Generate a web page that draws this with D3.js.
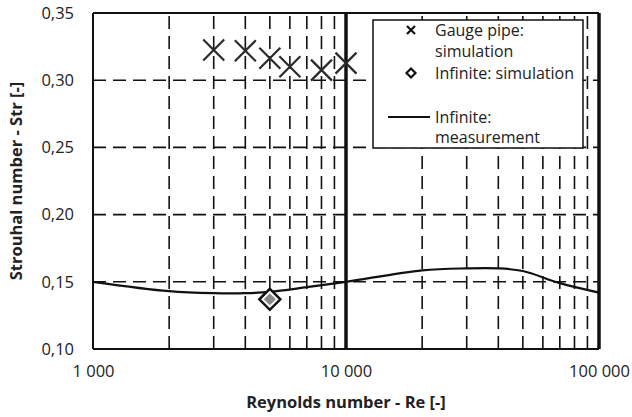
<!DOCTYPE html>
<html>
<head>
<meta charset="utf-8">
<script src="https://cdn.jsdelivr.net/npm/d3@7"></script>
<style>
  body { margin: 0; background: #fff; }
  text { font-family: "Open Sans", sans-serif; fill: #222; }
</style>
</head>
<body>
<div id="vis"></div>
<script>
// data
var gaugeRe  = [3000, 4000, 5000, 6000, 8000, 10000];
var gaugeStr = [0.3224, 0.3219, 0.3164, 0.3100, 0.3075, 0.3127];

var infSimRe  = [5000];
var infSimStr = [0.137];

var measRe  = [1000, 2000, 3000, 4000, 5000, 7000, 10000, 20000, 30000, 40000, 50000, 70000, 100000];
var measStr = [0.150, 0.1430, 0.1415, 0.1415, 0.1425, 0.1460, 0.1500, 0.1585, 0.1600, 0.1600, 0.1580, 0.1490, 0.1420];

var xTicks = [1000, 10000, 100000];
var yTicks = [0.10, 0.15, 0.20, 0.25, 0.30, 0.35];
var legendLabels = [["Gauge pipe:", "simulation"], ["Infinite: simulation"], ["Infinite:", "measurement"]];

var w = 632, h = 417;
var pLeft = 93, pRight = 599, pTop = 13, pBottom = 349;

var svg = d3.select("#vis").append("svg")
  .attr("width", w).attr("height", h);

var locale = d3.formatLocale({decimal: ",", thousands: " ", grouping: [3], currency: ["", ""]});
var fmtX = locale.format(",.0f");
var fmtY = locale.format(".2f");

var x = d3.scaleLog().domain([1000, 100000]).range([pLeft, pRight]);
var y = d3.scaleLinear().domain([0.10, 0.35]).range([pBottom, pTop]);

// minor vertical grid (dashed) and decades (solid, thick)
var minor = [];
[1000, 10000].forEach(function(d) { for (var k = 2; k <= 9; k++) minor.push(d * k); });

svg.append("g").selectAll("line").data(minor).enter().append("line")
  .attr("x1", d => x(d)).attr("x2", d => x(d))
  .attr("y1", pBottom).attr("y2", pTop)
  .attr("stroke", "#111").attr("stroke-width", 1.6)
  .attr("stroke-dasharray", "13,7");

svg.append("g").selectAll("line").data(yTicks.slice(1, 5)).enter().append("line")
  .attr("x1", pLeft).attr("x2", pRight)
  .attr("y1", d => y(d)).attr("y2", d => y(d))
  .attr("stroke", "#111").attr("stroke-width", 1.6)
  .attr("stroke-dasharray", "13,7");

// top border
svg.append("line")
  .attr("x1", pLeft).attr("x2", pRight)
  .attr("y1", y(0.35)).attr("y2", y(0.35))
  .attr("stroke", "#111").attr("stroke-width", 2);

svg.append("g").selectAll("line").data([10000, 100000]).enter().append("line")
  .attr("x1", d => x(d)).attr("x2", d => x(d))
  .attr("y1", pBottom).attr("y2", pTop)
  .attr("stroke", "#111").attr("stroke-width", 3.5);

// measurement line
var meas = measRe.map((d, i) => ({re: d, str: measStr[i]}));
svg.append("path").datum(meas)
  .attr("fill", "none").attr("stroke", "#111").attr("stroke-width", 2.2)
  .attr("d", d3.line().x(d => x(d.re)).y(d => y(d.str)).curve(d3.curveCatmullRom.alpha(0.5)));

// gauge pipe crosses
var cross = 10.5;
var g1 = svg.append("g").selectAll("g").data(gaugeRe).enter().append("g")
  .attr("transform", (d, i) => `translate(${x(d)},${y(gaugeStr[i])})`);
g1.append("path")
  .attr("d", `M${-cross},${-cross}L${cross},${cross}M${-cross},${cross}L${cross},${-cross}`)
  .attr("stroke", "#2a2a2a").attr("stroke-width", 2.2);

// infinite simulation diamond
var dm = 10.5;
var g2 = svg.append("g").selectAll("g").data(infSimRe).enter().append("g")
  .attr("transform", (d, i) => `translate(${x(d)},${y(infSimStr[i])})`);
g2.append("path")
  .attr("d", `M0,${-dm}L${dm},0L0,${dm}L${-dm},0Z`)
  .attr("fill", "#fff").attr("stroke", "#111").attr("stroke-width", 2.5);
g2.append("path")
  .attr("d", "M0,-6L6,0L0,6L-6,0Z")
  .attr("fill", "#888");

// axes
svg.append("line")
  .attr("x1", pLeft).attr("x2", pLeft).attr("y1", pTop).attr("y2", pBottom)
  .attr("stroke", "#111").attr("stroke-width", 2);
svg.append("line")
  .attr("x1", pLeft).attr("x2", pRight).attr("y1", pBottom).attr("y2", pBottom)
  .attr("stroke", "#111").attr("stroke-width", 2);

var xAxis = svg.append("g").attr("transform", `translate(0,${pBottom})`)
  .call(d3.axisBottom(x).tickValues(xTicks).tickSize(0).tickPadding(16).tickFormat(fmtX));
xAxis.select(".domain").remove();
xAxis.selectAll("text").attr("font-size", 16.5).attr("font-family", "Open Sans").attr("fill", "#222");

var yAxis = svg.append("g").attr("transform", `translate(${pLeft},0)`)
  .call(d3.axisLeft(y).tickValues(yTicks).tickSize(0).tickPadding(19).tickFormat(fmtY));
yAxis.select(".domain").remove();
yAxis.selectAll("text").attr("font-size", 16.5).attr("font-family", "Open Sans").attr("fill", "#222");

svg.append("text")
  .attr("x", 346).attr("y", 408)
  .attr("text-anchor", "middle")
  .attr("font-size", 16.5).attr("font-weight", "bold")
  .text("Reynolds number - Re [-]");

svg.append("text")
  .attr("transform", "translate(22,181) rotate(-90)")
  .attr("text-anchor", "middle")
  .attr("font-size", 16.5).attr("font-weight", "bold")
  .text("Strouhal number - Str [-]");

// legend
var lg = svg.append("g");
lg.append("rect")
  .attr("x", 373).attr("y", 20).attr("width", 210).attr("height", 128)
  .attr("fill", "#fff").attr("stroke", "#111").attr("stroke-width", 1.5);

var lineY = [[30, 51], [73], [117, 137]];
legendLabels.forEach(function(lines, i) {
  lines.forEach(function(t, j) {
    lg.append("text")
      .attr("x", 435).attr("y", lineY[i][j]).attr("dy", "0.35em")
      .attr("font-size", 16)
      .text(t);
  });
});
lg.append("path")
  .attr("d", "M407,26L415,34M407,34L415,26")
  .attr("stroke", "#111").attr("stroke-width", 2.2);
lg.append("path")
  .attr("d", "M411,68.5L415.5,73L411,77.5L406.5,73Z")
  .attr("fill", "#fff").attr("stroke", "#111").attr("stroke-width", 2.2);
lg.append("line")
  .attr("x1", 388).attr("x2", 430).attr("y1", 117).attr("y2", 117)
  .attr("stroke", "#111").attr("stroke-width", 2.2);
</script>
</body>
</html>
